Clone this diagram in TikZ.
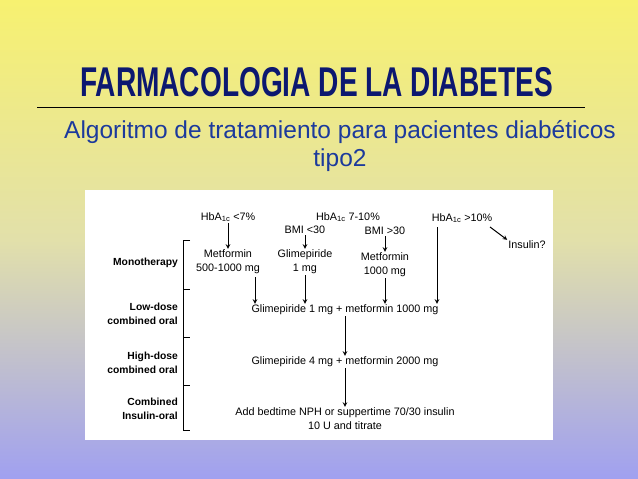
\documentclass[tikz,border=0pt]{standalone}
\usepackage{fontspec}
\setmainfont{Liberation Sans}
\begin{document}
\begin{tikzpicture}[x=1pt,y=-1pt,
  t/.style={font=\fontsize{10.8}{14}\selectfont,align=center,inner sep=1pt},
  lb/.style={font=\bfseries\fontsize{10.3}{13.5}\selectfont,align=right,anchor=east,inner sep=1pt},
  ar/.style={->,>=stealth,line width=1pt}]
\definecolor{titlec}{HTML}{0C1870}
\definecolor{subc}{HTML}{1C3A9C}
\shade[top color={rgb,255:red,247;green,241;blue,112},bottom color={rgb,255:red,160;green,160;blue,240},middle color={rgb,255:red,226;green,224;blue,170}] (0,0) rectangle (638,479);
\useasboundingbox (0,0) rectangle (638,479);
\node[text=titlec,font=\bfseries\fontsize{26}{28}\selectfont] (title) at (316.5,82.5) {\scalebox{1.08}[1.6]{FARMACOLOGIA DE LA DIABETES}};
\draw[line width=0.6pt] (37,107) -- (585,107);
\node[text=subc,font=\fontsize{24.5}{28}\selectfont,align=center] (sub) at (340,146) {Algoritmo de tratamiento para pacientes diabéticos\\tipo2};
\fill[white] (85,190) rectangle (553,440);
\node[t] (h1) at (228,217) {HbA$_{\mathrm{1c}}$ <7\%};
\node[t] (h2) at (348,217) {HbA$_{\mathrm{1c}}$ 7-10\%};
\node[t] (b1) at (305,230) {BMI <30};
\node[t] (b2) at (385,231) {BMI >30};
\node[t] (h3) at (462,218) {HbA$_{\mathrm{1c}}$ >10\%};
\node[t] (ins) at (527,245) {Insulin?};
\node[t] (m1) at (228,262) {Metformin\\500-1000 mg};
\node[t] (g1) at (305,262) {Glimepiride\\1 mg};
\node[t] (m2) at (385,265) {Metformin\\1000 mg};
\node[t] (c1) at (345,310) {Glimepiride 1 mg + metformin 1000 mg};
\node[t] (c2) at (345,362) {Glimepiride 4 mg + metformin 2000 mg};
\node[t] (c3) at (345,419) {Add bedtime NPH or suppertime 70/30 insulin\\10 U and titrate};
\coordinate (s1) at (255,277);
\coordinate (s4) at (437,227);
\coordinate (s5) at (490,227);
\draw[ar] (h1) -- (m1);
\draw[ar] (b1) -- (g1);
\draw[ar] (b2) -- (m2);
\draw[ar] (s1) -- (s1 |- c1.north);
\draw[ar] (g1) -- (g1 |- c1.north);
\draw[ar] (m2) -- (m2 |- c1.north);
\draw[ar] (s4) -- (s4 |- c1.north);
\draw[ar] (s5) -- (ins.north west);
\draw[ar] (c1) -- (c2);
\draw[ar] (c2) -- (c3);
\draw[line width=0.6pt] (190,240) -- (183,240) -- (183,430) -- (190,430);
\foreach \yy in {289,337,385} \draw[line width=0.6pt] (183,\yy) -- (190,\yy);
\node[lb] (l1) at (179,263) {Monotherapy};
\node[lb] (l2) at (179,314) {Low-dose\\combined oral};
\node[lb] (l3) at (179,363) {High-dose\\combined oral};
\node[lb] (l4) at (179,409) {Combined\\Insulin-oral};
\end{tikzpicture}
\end{document}
